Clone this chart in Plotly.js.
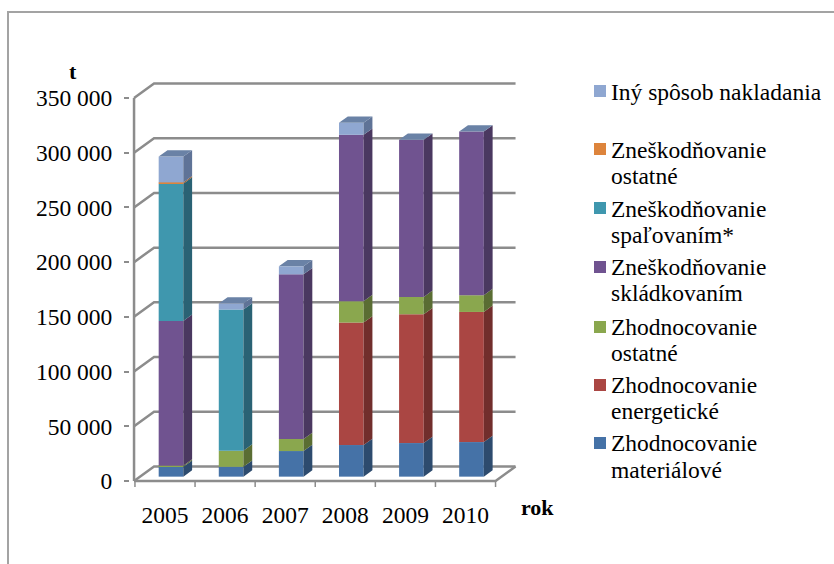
<!DOCTYPE html>
<html>
<head>
<meta charset="utf-8">
<script src="https://cdn.plot.ly/plotly-3.0.1.min.js"></script>
<style>html,body{margin:0;padding:0;background:#fff}</style>
</head>
<body>
<div id="chart" style="width:834px;height:564px"></div>
<script>
const years = ['2005','2006','2007','2008','2009','2010'];
const yTicks = [0,50000,100000,150000,200000,250000,300000,350000];
const yLabels = ['0','50 000','100 000','150 000','200 000','250 000','300 000','350 000'];

// Stack order, bottom to top
const materialove = [9000, 9000, 23400, 28900, 30700, 31600];
const energeticke = [0, 0, 0, 111900, 117700, 118900];
const zhodnOstatne = [1000, 14700, 11000, 19500, 15800, 15300];
const skladkovanim = [132300, 0, 150500, 152100, 143600, 149600];
const spalovanim = [125400, 129000, 0, 0, 0, 0];
const zneskOstatne = [1200, 0, 0, 0, 0, 0];
const inySposob = [23600, 5500, 7300, 10900, 0, 0];

const stack = [materialove, energeticke, zhodnOstatne, skladkovanim, spalovanim, zneskOstatne, inySposob];
const names = ['Zhodnocovanie materiálové','Zhodnocovanie energetické','Zhodnocovanie ostatné','Zneškodňovanie skládkovaním','Zneškodňovanie spaľovaním*','Zneškodňovanie ostatné','Iný spôsob nakladania'];
const front = ['#4572a7','#aa4643','#8aa74e','#705390','#3f97ae','#dd843c','#8fa7d1'];
const side = ['#2d4b6e','#712e2c','#5a6d33','#4a3860','#2a6274','#94582a','#5f7397'];
const capColor = '#6a82a6';
const lineColor = '#8c8c8c';

// label lines, stack index, y of each line, y of the swatch
const legendRows = [
  [['Iný spôsob nakladania'], 6, [92], 91],
  [['Zneškodňovanie','ostatné'], 5, [150,176], 149],
  [['Zneškodňovanie','spaľovaním*'], 4, [209,235], 208],
  [['Zneškodňovanie','skládkovaním'], 3, [267,293], 267],
  [['Zhodnocovanie','ostatné'], 2, [327,353], 327],
  [['Zhodnocovanie','energetické'], 1, [385,411], 385],
  [['Zhodnocovanie','materiálové'], 0, [443,470], 443]
];

// Plot frame in pixels
const L = 130, R = 530, T = 76, B = 489, W = 834, H = 564;
const pxPerCat = 60.1, cat0 = 165, zero = 481, top350 = 98;
const unitPerPx = 350000 / (zero - top350);
const xRange = [(L - cat0) / pxPerCat, (R - cat0) / pxPerCat];
const yRange = [(zero - B) * unitPerPx, (zero - T) * unitPerPx];
const DX = 20 / pxPerCat, DY = 14.5 * unitPerPx;
const D0 = 0.3, D1 = 0.74, BW = 0.41;
const px = v => (v - L) / (R - L);
const py = v => (B - v) / (B - T);

const traces = [];
const idx = years.map((_, i) => i);
const cum = idx.map(() => 0);

stack.forEach((vals, s) => {
  const bases = cum.slice();
  traces.push({
    type: 'bar', name: names[s], x: idx.map(i => i + D0 * DX), y: vals,
    base: bases.map(b => b + D0 * DY), width: BW,
    marker: {color: front[s], line: {width: 0}}, showlegend: false, hoverinfo: 'y+name'
  });
  const sx = [], sy = [];
  idx.forEach(i => {
    if (vals[i] <= 0) return;
    const xr = i + BW / 2;
    const b = bases[i], t = b + vals[i];
    sx.push(xr + D0 * DX, xr + D0 * DX, xr + D1 * DX, xr + D1 * DX, xr + D0 * DX, null);
    sy.push(b + D0 * DY, t + D0 * DY, t + D1 * DY, b + D1 * DY, b + D0 * DY, null);
  });
  traces.push({
    type: 'scatter', mode: 'lines', x: sx, y: sy, fill: 'toself', fillcolor: side[s],
    line: {width: 0, color: side[s]}, showlegend: false, hoverinfo: 'skip'
  });
  idx.forEach(i => { cum[i] += vals[i]; });
});

// Top caps of the columns
const cx = [], cy = [];
idx.forEach(i => {
  const a = i - BW / 2, b = i + BW / 2, t = cum[i];
  cx.push(a + D0 * DX, b + D0 * DX, b + D1 * DX, a + D1 * DX, a + D0 * DX, null);
  cy.push(t + D0 * DY, t + D0 * DY, t + D1 * DY, t + D1 * DY, t + D0 * DY, null);
});
traces.push({
  type: 'scatter', mode: 'lines', x: cx, y: cy, fill: 'toself', fillcolor: capColor,
  line: {width: 0, color: capColor}, showlegend: false, hoverinfo: 'skip'
});

const x0 = -0.5 - 0.015, x1 = years.length - 0.5;
const gridLine = {color: lineColor, width: 2.5};
const shapes = [];
yTicks.forEach(v => {
  shapes.push({type: 'path', layer: 'below', xref: 'x', yref: 'y', line: gridLine,
    path: `M${x0},${v} L${x0 + DX},${v + DY} L${x1 + DX},${v + DY}`});
});
// Wall edge and floor
shapes.push({type: 'line', layer: 'below', xref: 'x', yref: 'y', line: gridLine, x0: x0, x1: x0, y0: 0, y1: 350000});
shapes.push({type: 'path', layer: 'below', xref: 'x', yref: 'y', line: gridLine,
  path: `M${x0},0 L${x1},0 L${x1 + DX},${DY}`});
// Category ticks
for (let i = 0; i <= years.length; i++) {
  shapes.push({type: 'line', layer: 'below', xref: 'x', yref: 'y', line: {color: lineColor, width: 1.5},
    x0: i - 0.5, x1: i - 0.5, y0: 0, y1: -6 * unitPerPx});
}
// Outer chart frame (top and left only)
shapes.push({type: 'path', xref: 'paper', yref: 'paper', line: {color: '#a3a3a3', width: 2},
  path: `M${px(8)},${py(H)} L${px(8)},${py(12)} L${px(W)},${py(12)}`});

const annotations = [
  {text: '<b>t</b>', x: px(73), y: py(71), xref: 'paper', yref: 'paper', showarrow: false,
   xanchor: 'center', yanchor: 'middle', font: {family: 'Liberation Serif', size: 22, color: '#000'}},
  {text: '<b>rok</b>', x: px(537), y: py(507), xref: 'paper', yref: 'paper', showarrow: false,
   xanchor: 'center', yanchor: 'middle', font: {family: 'Liberation Serif', size: 22, color: '#000'}}
];
legendRows.forEach(r => {
  r[0].forEach((line, k) => {
    annotations.push({text: line, x: px(609), y: py(r[2][k]), xref: 'paper', yref: 'paper', showarrow: false,
      xanchor: 'left', yanchor: 'middle', align: 'left',
      font: {family: 'Liberation Serif', size: 23.5, color: '#000'}});
  });
  shapes.push({type: 'rect', xref: 'paper', yref: 'paper', line: {width: 0}, fillcolor: front[r[1]],
    x0: px(594), x1: px(606), y0: py(r[3] - 6), y1: py(r[3] + 6)});
});

const layout = {
  width: W, height: H, autosize: false, showlegend: false,
  paper_bgcolor: '#fff', plot_bgcolor: 'rgba(0,0,0,0)',
  margin: {l: L, r: W - R, t: T, b: H - B, pad: 0},
  barmode: 'overlay',
  xaxis: {type: 'linear', range: xRange, tickmode: 'array', tickvals: idx, ticktext: years,
    showgrid: false, zeroline: false, showline: false, ticks: '', ticklabelstandoff: 9,
    tickfont: {family: 'Liberation Serif', size: 23.5, color: '#000'}},
  yaxis: {range: yRange, tickmode: 'array', tickvals: yTicks, ticktext: yLabels,
    showgrid: false, zeroline: false, showline: false, ticks: 'outside', ticklen: 5, tickwidth: 2,
    tickcolor: lineColor, ticklabelstandoff: 7,
    tickfont: {family: 'Liberation Serif', size: 23.5, color: '#000'}},
  shapes: shapes,
  annotations: annotations
};
Plotly.newPlot('chart', traces, layout, {displayModeBar: false, responsive: false});
</script>
</body>
</html>
